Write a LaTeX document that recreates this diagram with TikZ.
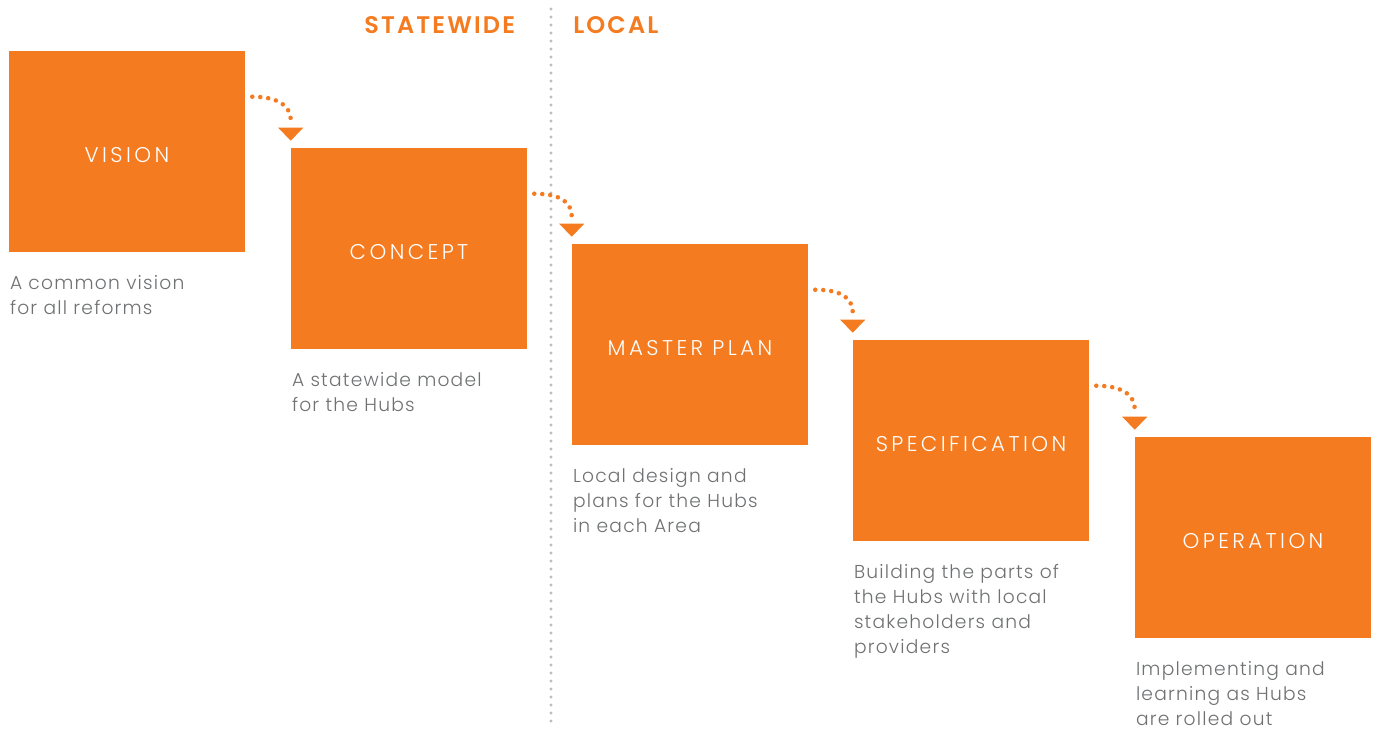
\documentclass[tikz,border=0pt]{standalone}
\usepackage{fontspec}
\setmainfont{Poppins Light}[LetterSpace=6.5]
\newfontfamily\headfont{Poppins SemiBold}[LetterSpace=9]
\newfontfamily\boxfont{Poppins Light}[LetterSpace=16]
\usetikzlibrary{calc}
\definecolor{vorange}{HTML}{F47B20}
\definecolor{vgray}{HTML}{707173}
\definecolor{lgray}{HTML}{BDBDBD}
\tikzset{
  box/.style={fill=vorange, draw=none, minimum width=177pt, minimum height=150.75pt, inner sep=0pt},
  boxlabel/.style={anchor=center, inner sep=0pt, text=white, font=\boxfont\fontsize{16pt}{18pt}\selectfont},
  caption/.style={anchor=north west, inner sep=0pt, align=left, text=vgray,
    font=\fontsize{14pt}{18.75pt}\selectfont},
  head/.style={anchor=base west, inner sep=0pt, text=vorange, font=\headfont\fontsize{18pt}{20pt}\selectfont},
  flow/.style={vorange, line width=3.4pt, line cap=round, dash pattern=on 0pt off 6pt},
  tip/.style={fill=vorange, draw=none},
}
\newcommand{\stepflow}[2]{%
  \coordinate (#1s) at ($(#1.north east)+(7,46)$);
  \coordinate (#1e) at ($(#2.north west)+(0,-27)$);
  \draw[flow] (#1s) .. controls ($(#1s)+(24,0)$) and ($(#1e)+(0,-16)$) .. (#1e);
  \fill[tip] ($(#2.north west)+(-12.5,-20)$) -- ($(#2.north west)+(12.5,-20)$) -- ($(#2.north west)+(0,-7)$) -- cycle;
}
\begin{document}
\begin{tikzpicture}[x=0.75pt,y=-0.75pt]
\fill[white] (0,0) rectangle (1378,729);
\useasboundingbox (0,0) rectangle (1378,729);
% divider
\coordinate (dtop) at (551,9);
\coordinate (dbot) at (551,722);
\draw[lgray, line width=2.4pt, line cap=round, dash pattern=on 0pt off 6pt] (dtop) -- (dbot);
% headers
\node[head] (hs) at (364,33) {STATEWIDE};
\node[head] (hl) at (573,33) {LOCAL};
% boxes
\node[box] (v) at (127,151.5) {};
\node[box] (c) at (409,248.5) {};
\node[box] (m) at (690,344.5) {};
\node[box] (s) at (971,440.5) {};
\node[box] (o) at (1253,537.5) {};
\node[boxlabel] (vl) at ($(v.center)+(0,4)$) {VISION};
\node[boxlabel] (cl) at ($(c.center)+(0,4)$) {CONCEPT};
\node[boxlabel] (ml) at ($(m.center)+(0,4)$) {MASTER PLAN};
\node[boxlabel] (sl) at ($(s.center)+(0,4)$) {SPECIFICATION};
\node[boxlabel] (ol) at ($(o.center)+(0,4)$) {OPERATION};
% captions
\node[caption] (vt) at ($(v.south west)+(1,23)$) {A common vision\\for all reforms};
\node[caption] (ct) at ($(c.south west)+(1,23)$) {A statewide model\\for the Hubs};
\node[caption] (mt) at ($(m.south west)+(1,23)$) {Local design and\\plans for the Hubs\\in each Area};
\node[caption] (st) at ($(s.south west)+(1,23)$) {Building the parts of\\the Hubs with local\\stakeholders and\\providers};
\node[caption] (ot) at ($(o.south west)+(1,23)$) {Implementing and\\learning as Hubs\\are rolled out};
% arrows
\stepflow{v}{c}
\stepflow{c}{m}
\stepflow{m}{s}
\stepflow{s}{o}
\end{tikzpicture}
\end{document}
